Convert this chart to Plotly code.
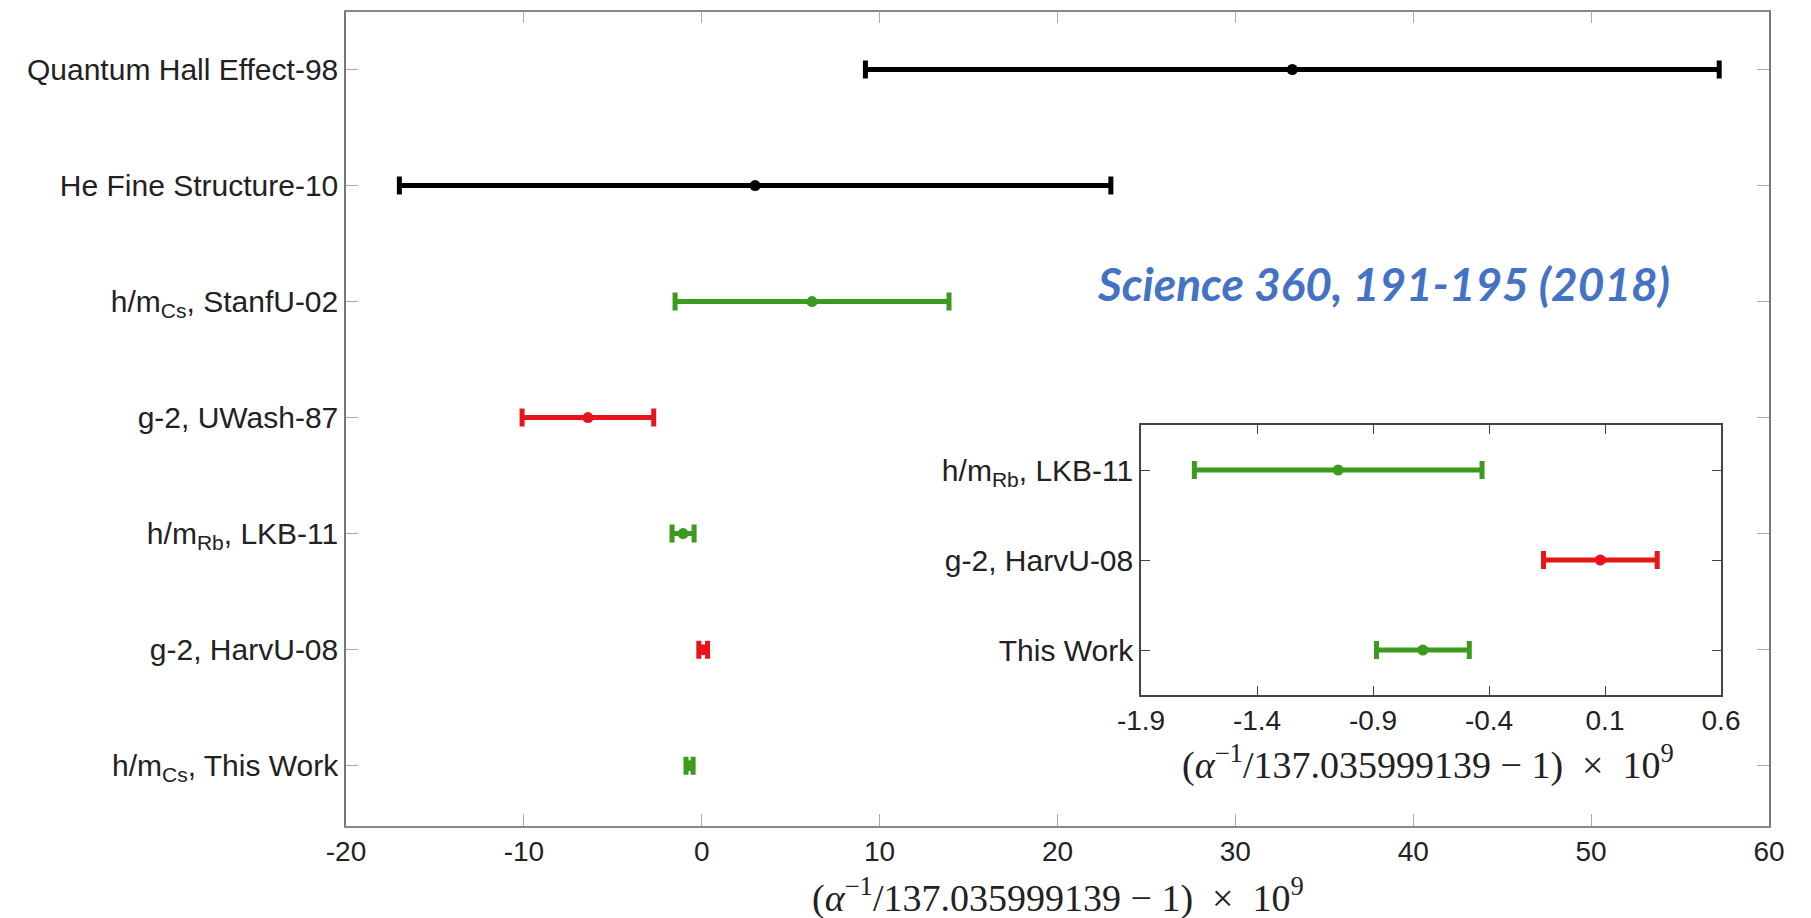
import plotly.graph_objects as go

# ---------------- data ----------------
main_labels = [
    "Quantum Hall Effect-98",
    "He Fine Structure-10",
    "h/m<sub>Cs</sub>, StanfU-02",
    "g-2, UWash-87",
    "h/m<sub>Rb</sub>, LKB-11",
    "g-2, HarvU-08",
    "h/m<sub>Cs</sub>, This Work",
]
main_values = [33.2, 3.0, 6.2, -6.4, -1.05, 0.08, -0.685]
main_errors = [24.0, 20.0, 7.7, 3.7, 0.62, 0.245, 0.20]
main_colors = ["black", "black", "green", "red", "green", "red", "green"]

inset_labels = ["h/m<sub>Rb</sub>, LKB-11", "g-2, HarvU-08", "This Work"]
inset_values = [-1.05, 0.08, -0.685]
inset_errors = [0.62, 0.245, 0.20]
inset_colors = ["green", "red", "green"]

main_xticks = [-20, -10, 0, 10, 20, 30, 40, 50, 60]
inset_xticks = [-1.9, -1.4, -0.9, -0.4, 0.1, 0.6]

palette = {"black": "#000000", "green": "#3c9a1e", "red": "#e8141b"}

W, H = 1811, 918
fig = go.Figure()

main_pos = list(range(1, len(main_labels) + 1))
for y, v, e, c in zip(main_pos, main_values, main_errors, main_colors):
    col = palette[c]
    fig.add_trace(go.Scatter(
        x=[v], y=[y], mode="markers", xaxis="x", yaxis="y",
        marker=dict(color=col, size=11),
        error_x=dict(type="data", array=[e], color=col, thickness=5, width=9),
        showlegend=False, hoverinfo="x+y",
    ))

inset_pos = list(range(1, len(inset_labels) + 1))
for y, v, e, c in zip(inset_pos, inset_values, inset_errors, inset_colors):
    col = palette[c]
    fig.add_trace(go.Scatter(
        x=[v], y=[y], mode="markers", xaxis="x2", yaxis="y2",
        marker=dict(color=col, size=11),
        error_x=dict(type="data", array=[e], color=col, thickness=5, width=9),
        showlegend=False, hoverinfo="x+y",
    ))

tick_font = dict(family="Liberation Sans, Arial, sans-serif", size=30, color="#222")
xtick_font = dict(family="Liberation Sans, Arial, sans-serif", size=28, color="#222")
title_font = dict(family="Liberation Serif, DejaVu Serif, serif", size=38, color="#222")
axis_title = "(<i>α</i><sup>−1</sup>/137.035999139 − 1)  ×  10<sup>9</sup>"

fig.update_layout(
    width=W, height=H,
    margin=dict(l=0, r=0, t=0, b=0, autoexpand=False),
    paper_bgcolor="white", plot_bgcolor="white",
    xaxis=dict(
        domain=[346 / W, 1769 / W], anchor="y", automargin=False,
        range=[-20, 60], tickvals=main_xticks,
        ticktext=[str(t) for t in main_xticks],
        showgrid=False, zeroline=False,
        showline=True, linecolor="#888", linewidth=1.5, mirror="ticks",
        ticks="inside", ticklen=12, tickcolor="#aaa", tickwidth=1,
        tickfont=xtick_font,
    ),
    yaxis=dict(
        domain=[1 - 826 / H, 1 - 11.5 / H], anchor="x", automargin=False,
        range=[7.52, 0.5], tickvals=main_pos, ticktext=main_labels,
        showgrid=False, zeroline=False,
        showline=True, linecolor="#777", linewidth=1.5, mirror="ticks",
        ticks="inside", ticklen=12, tickcolor="#aaa", tickwidth=1,
        tickfont=tick_font,
    ),
    xaxis2=dict(
        domain=[1141 / W, 1721 / W], anchor="y2", automargin=False,
        range=[-1.9, 0.6], tickvals=inset_xticks,
        ticktext=[f"{t:.1f}" for t in inset_xticks],
        showgrid=False, zeroline=False,
        showline=True, linecolor="#444", linewidth=1.5, mirror="ticks",
        ticks="inside", ticklen=9, tickcolor="#444", tickwidth=1,
        tickfont=xtick_font,
    ),
    yaxis2=dict(
        domain=[1 - 695 / H, 1 - 425 / H], anchor="x2", automargin=False,
        range=[3.5, 0.5], tickvals=inset_pos, ticktext=inset_labels,
        showgrid=False, zeroline=False,
        showline=True, linecolor="#444", linewidth=1.5, mirror="ticks",
        ticks="inside", ticklen=9, tickcolor="#444", tickwidth=1,
        tickfont=tick_font,
    ),
    annotations=[
        dict(text=axis_title, xref="paper", yref="paper",
             x=1058 / W, y=1 - 895 / H, xanchor="center", yanchor="middle",
             showarrow=False, font=title_font),
        dict(text=axis_title, xref="paper", yref="paper",
             x=1428 / W, y=1 - 762 / H, xanchor="center", yanchor="middle",
             showarrow=False, font=title_font),
        dict(text="<b><i>Science 360, 191-195 (2018)</i></b>", xref="paper", yref="paper",
             x=1383 / W, y=1 - 283 / H, xanchor="center", yanchor="middle",
             showarrow=False,
             font=dict(family="Lato, Open Sans, sans-serif", size=46, color="#4472c4")),
    ],
)

fig.write_html("out.html")
